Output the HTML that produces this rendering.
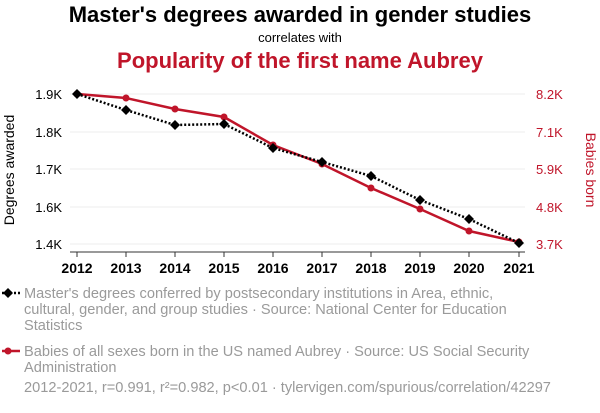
<!DOCTYPE html>
<html><head><meta charset="utf-8"><style>
body{margin:0;background:#fff;width:600px;height:408px;overflow:hidden;font-family:"Liberation Sans",sans-serif}
</style></head><body>
<svg width="600" height="408" xmlns="http://www.w3.org/2000/svg" font-family="Liberation Sans, sans-serif">
<text x="300" y="22" text-anchor="middle" font-size="22" font-weight="bold" fill="#000">Master's degrees awarded in gender studies</text>
<text x="300" y="42" text-anchor="middle" font-size="13" fill="#000">correlates with</text>
<text x="300" y="68" text-anchor="middle" font-size="22" font-weight="bold" fill="#c0152a">Popularity of the first name Aubrey</text>
<g stroke="#eee" stroke-width="1">
<line x1="70" y1="94" x2="525" y2="94"/><line x1="70" y1="132" x2="525" y2="132"/><line x1="70" y1="169" x2="525" y2="169"/><line x1="70" y1="207" x2="525" y2="207"/><line x1="70" y1="244" x2="525" y2="244"/>
</g>
<line x1="70" y1="252" x2="525" y2="252" stroke="#333" stroke-width="1"/>
<g stroke="#333" stroke-width="1">
<line x1="77" y1="252" x2="77" y2="257"/><line x1="126" y1="252" x2="126" y2="257"/><line x1="175" y1="252" x2="175" y2="257"/><line x1="224" y1="252" x2="224" y2="257"/><line x1="273" y1="252" x2="273" y2="257"/><line x1="322" y1="252" x2="322" y2="257"/><line x1="371" y1="252" x2="371" y2="257"/><line x1="420" y1="252" x2="420" y2="257"/><line x1="469" y1="252" x2="469" y2="257"/><line x1="519" y1="252" x2="519" y2="257"/>
</g>
<g font-size="13" fill="#000" text-anchor="end">
<text x="62" y="99">1.9K</text><text x="62" y="137">1.8K</text><text x="62" y="174">1.7K</text><text x="62" y="212">1.6K</text><text x="62" y="249">1.4K</text>
</g>
<g font-size="13" fill="#c0152a" text-anchor="start">
<text x="536" y="99">8.2K</text><text x="536" y="137">7.1K</text><text x="536" y="174">5.9K</text><text x="536" y="212">4.8K</text><text x="536" y="249">3.7K</text>
</g>
<text transform="translate(14,170) rotate(-90)" text-anchor="middle" font-size="14" fill="#000">Degrees awarded</text>
<text transform="translate(586,170) rotate(90)" text-anchor="middle" font-size="14" fill="#c0152a">Babies born</text>
<g font-size="14" font-weight="bold" fill="#000" text-anchor="middle">
<text x="77" y="273">2012</text><text x="126" y="273">2013</text><text x="175" y="273">2014</text><text x="224" y="273">2015</text><text x="273" y="273">2016</text><text x="322" y="273">2017</text><text x="371" y="273">2018</text><text x="420" y="273">2019</text><text x="469" y="273">2020</text><text x="519" y="273">2021</text>
</g>
<polyline fill="none" stroke="#c0152a" stroke-width="2.5" points="77,94 126,98 175,109 224,117 273,145 322,164 371,188 420,209 469,231 519,242"/>
<g fill="#c0152a">
<circle cx="77" cy="94" r="3.5"/><circle cx="126" cy="98" r="3.5"/><circle cx="175" cy="109" r="3.5"/><circle cx="224" cy="117" r="3.5"/><circle cx="273" cy="145" r="3.5"/><circle cx="322" cy="164" r="3.5"/><circle cx="371" cy="188" r="3.5"/><circle cx="420" cy="209" r="3.5"/><circle cx="469" cy="231" r="3.5"/><circle cx="519" cy="242" r="3.5"/>
</g>
<polyline fill="none" stroke="#000" stroke-width="2.5" stroke-dasharray="2,2" points="77,94 126,110 175,125 224,124 273,148 322,162 371,176 420,200 469,219 519,243"/>
<g fill="#000">
<path d="M77,89l5,5-5,5-5-5z"/><path d="M126,105l5,5-5,5-5-5z"/><path d="M175,120l5,5-5,5-5-5z"/><path d="M224,119l5,5-5,5-5-5z"/><path d="M273,143l5,5-5,5-5-5z"/><path d="M322,157l5,5-5,5-5-5z"/><path d="M371,171l5,5-5,5-5-5z"/><path d="M420,195l5,5-5,5-5-5z"/><path d="M469,214l5,5-5,5-5-5z"/><path d="M519,238l5,5-5,5-5-5z"/>
</g>
<line x1="2" y1="293" x2="20" y2="293" stroke="#000" stroke-width="2.5" stroke-dasharray="2,2"/>
<path d="M8,288l5,5-5,5-5-5z" fill="#000"/>
<g font-size="14.6" fill="#9a9a9a">
<text x="24" y="298">Master's degrees conferred by postsecondary institutions in Area, ethnic,</text>
<text x="24" y="314">cultural, gender, and group studies · Source: National Center for Education</text>
<text x="24" y="330">Statistics</text>
<text x="24" y="356">Babies of all sexes born in the US named Aubrey · Source: US Social Security</text>
<text x="24" y="372">Administration</text>
<text x="24" y="392">2012-2021, r=0.991, r²=0.982, p&lt;0.01 · tylervigen.com/spurious/correlation/42297</text>
</g>
<line x1="2" y1="351" x2="20" y2="351" stroke="#c0152a" stroke-width="2.5"/>
<circle cx="8" cy="351" r="3.5" fill="#c0152a"/>
</svg>
</body></html>
